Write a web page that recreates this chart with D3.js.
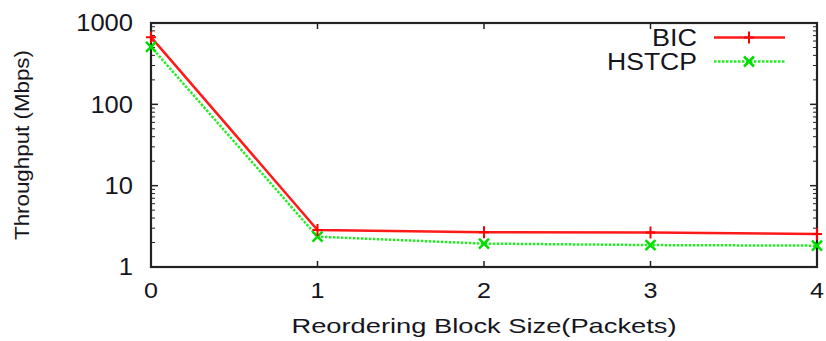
<!DOCTYPE html>
<html>
<head>
<meta charset="utf-8">
<script src="https://cdn.jsdelivr.net/npm/d3@7"></script>
<style>
  body { margin: 0; background: #fff; }
  svg { font-family: "Liberation Sans", Arial, sans-serif; }
</style>
</head>
<body>
<svg id="chart" width="826" height="341"></svg>
<script>
  const blockSizes = [0, 1, 2, 3, 4];
  const bicValues = [670, 2.85, 2.67, 2.65, 2.55];
  const hstcpValues = [510, 2.36, 1.94, 1.86, 1.83];
  const yTicks = [1, 10, 100, 1000];
  const seriesNames = ["BIC", "HSTCP"];

  const margin = { top: 23, right: 9, bottom: 74, left: 151 };
  const width = 826, height = 341;
  const svg = d3.select("#chart");

  const x = d3.scaleLinear().domain([0, 4]).range([margin.left, width - margin.right]);
  const y = d3.scaleLog().domain([1, 1000]).range([height - margin.bottom, margin.top]);

  // minor log ticks
  const minor = [];
  for (let d = 1; d < 1000; d *= 10)
    for (let k = 2; k <= 9; k++) minor.push(d * k);

  const axes = svg.append("g").attr("stroke", "#222");
  [x.range()[0], x.range()[1]].forEach((px, i) => {
    const dir = i === 0 ? 1 : -1;
    axes.selectAll(null).data(yTicks).join("line")
      .attr("x1", px).attr("x2", px + dir * 7)
      .attr("y1", d => y(d)).attr("y2", d => y(d)).attr("stroke-width", 1.5);
    axes.selectAll(null).data(minor).join("line")
      .attr("x1", px).attr("x2", px + dir * 4)
      .attr("y1", d => y(d)).attr("y2", d => y(d)).attr("stroke-width", 1);
  });
  [y.range()[0], y.range()[1]].forEach((py, i) => {
    const dir = i === 0 ? -1 : 1;
    axes.selectAll(null).data(blockSizes).join("line")
      .attr("x1", d => x(d)).attr("x2", d => x(d))
      .attr("y1", py).attr("y2", py + dir * 6).attr("stroke-width", 1.5);
  });

  svg.append("rect")
    .attr("x", margin.left).attr("y", margin.top)
    .attr("width", width - margin.left - margin.right)
    .attr("height", height - margin.top - margin.bottom)
    .attr("fill", "none").attr("stroke", "#222").attr("stroke-width", 2.2);

  // the original's text is a bit wider than Liberation Sans, so stretch it
  svg.append("g").selectAll("text").data(yTicks).join("text")
    .attr("x", margin.left - 18).attr("y", d => y(d)).attr("dy", "0.36em")
    .attr("text-anchor", "end").attr("font-size", 23).attr("fill", "#151520")
    .attr("textLength", d => String(d).length * 14.2).attr("lengthAdjust", "spacingAndGlyphs")
    .text(d => d);

  svg.append("g").selectAll("text").data(blockSizes).join("text")
    .attr("x", d => x(d)).attr("y", 298)
    .attr("text-anchor", "middle").attr("font-size", 22).attr("fill", "#151520")
    .attr("textLength", 14).attr("lengthAdjust", "spacingAndGlyphs")
    .text(d => d);

  svg.append("text")
    .attr("x", (x.range()[0] + x.range()[1]) / 2).attr("y", 333)
    .attr("text-anchor", "middle").attr("font-size", 21).attr("fill", "#151520")
    .attr("textLength", 385).attr("lengthAdjust", "spacingAndGlyphs")
    .text("Reordering Block Size(Packets)");

  svg.append("text")
    .attr("transform", `translate(29,${(y.range()[0] + y.range()[1]) / 2}) rotate(-90)`)
    .attr("text-anchor", "middle").attr("font-size", 20.5).attr("fill", "#151520")
    .attr("textLength", 190).attr("lengthAdjust", "spacingAndGlyphs")
    .text("Throughput (Mbps)");

  const line = d3.line().x((d, i) => x(blockSizes[i])).y(d => y(d));

  function plus(g, cx, cy) {
    g.append("path").attr("d", `M${cx - 5},${cy}H${cx + 5}M${cx},${cy - 6}V${cy + 6}`)
      .attr("stroke", "#ff0000").attr("stroke-width", 2);
  }
  function cross(g, cx, cy) {
    g.append("path").attr("d", `M${cx - 5},${cy - 5}L${cx + 5},${cy + 5}M${cx - 5},${cy + 5}L${cx + 5},${cy - 5}`)
      .attr("stroke", "#00dd00").attr("stroke-width", 2.5);
  }

  const plot = svg.append("g");
  plot.append("path").datum(hstcpValues).attr("d", line)
    .attr("fill", "none").attr("stroke", "#22ee22").attr("stroke-width", 2.5)
    .attr("stroke-dasharray", "2.5,1.5");
  plot.append("path").datum(bicValues).attr("d", line)
    .attr("fill", "none").attr("stroke", "#ff1a1a").attr("stroke-width", 2.5);
  hstcpValues.forEach((v, i) => cross(plot, x(blockSizes[i]), y(v)));
  bicValues.forEach((v, i) => plus(plot, x(blockSizes[i]), y(v)));

  // legend
  const legend = svg.append("g");
  const ly = [37.5, 61.5];
  const legendWidths = [45, 90];
  seriesNames.forEach((name, i) => {
    legend.append("text").attr("x", 697).attr("y", ly[i]).attr("dy", "0.36em")
      .attr("text-anchor", "end").attr("font-size", 23).attr("fill", "#151520")
      .attr("textLength", legendWidths[i]).attr("lengthAdjust", "spacingAndGlyphs")
      .text(name);
    const ln = legend.append("line").attr("x1", 714).attr("x2", 785)
      .attr("y1", ly[i]).attr("y2", ly[i]).attr("stroke-width", 2.5);
    if (i === 0) { ln.attr("stroke", "#ff1a1a"); plus(legend, 749, ly[i]); }
    else { ln.attr("stroke", "#22ee22").attr("stroke-dasharray", "2.5,1.5"); cross(legend, 749, ly[i]); }
  });
</script>
</body>
</html>
